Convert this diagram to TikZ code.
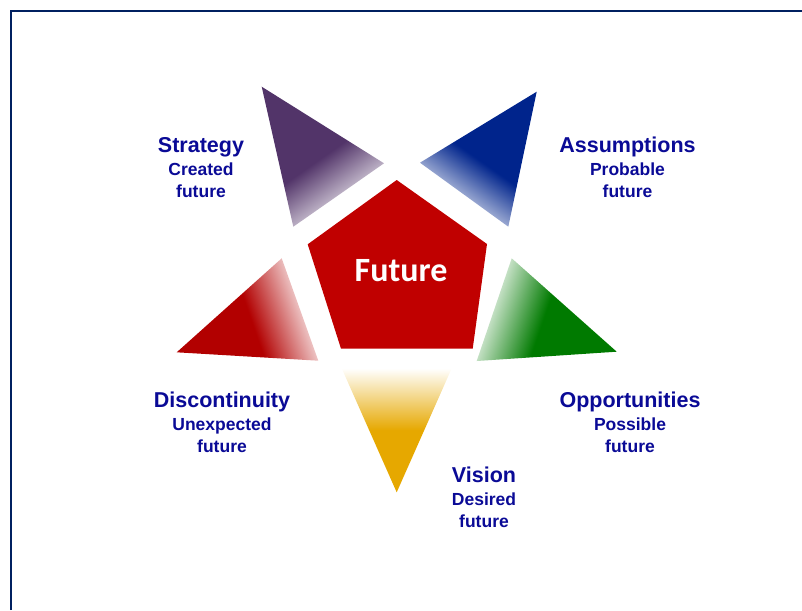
\documentclass[tikz,border=0pt]{standalone}
\usepackage{fontspec}
\setmainfont{Liberation Sans}
\newfontfamily\futurefont{Carlito}

\definecolor{starcolor0000}{RGB}{0,32,96}
\definecolor{starcolor0001}{RGB}{192,0,0}
\definecolor{starcolor0002}{RGB}{82,52,105}
\definecolor{starcolor0003}{RGB}{0,36,140}
\definecolor{starcolor0004}{RGB}{178,0,0}
\definecolor{starcolor0005}{RGB}{0,122,0}
\definecolor{starcolor0006}{RGB}{230,168,0}
\definecolor{starcolor0007}{RGB}{10,10,150}

\begin{document}
\begin{tikzpicture}[yscale=-1
                ,pstyle1/.style={color=starcolor0000,line width=2pt}
                ,pstyle2/.style={top color=#1,bottom color=white,middle color=#1}
                ,pstyle3/.style={anchor=base,color=starcolor0007,font=\fontsize{21.5}{22}\selectfont\bfseries}
                ,pstyle4/.style={anchor=base,color=starcolor0007,font=\fontsize{17.5}{20}\selectfont\bfseries}
            ]
            \useasboundingbox (0pt,0pt) rectangle (802pt,610pt);
            \draw[pstyle1] (10.8pt,610pt) -- (10.8pt,11pt) -- (802pt,11pt);
            \shade[pstyle2=starcolor0002,shading angle=35] (261.7pt,86.7pt) -- (384pt,163.3pt) -- (293.3pt,226.7pt) -- cycle;
            \shade[pstyle2=starcolor0003,shading angle=-35] (536.7pt,91.7pt) -- (420pt,162.7pt) -- (508.3pt,226.7pt) -- cycle;
            \shade[pstyle2=starcolor0004,shading angle=109] (176.7pt,352.3pt) -- (281.7pt,258.3pt) -- (318.3pt,360.7pt) -- cycle;
            \shade[pstyle2=starcolor0005,shading angle=-109] (511.7pt,258.3pt) -- (616.7pt,351.7pt) -- (476.7pt,361pt) -- cycle;
            \shade[pstyle2=starcolor0006,shading angle=180] (341.7pt,368.3pt) -- (451.7pt,368.3pt) -- (396.7pt,492.3pt) -- cycle;
            \fill[starcolor0001] (396.7pt,180pt) -- (487pt,244pt) -- (472.7pt,348.7pt) -- (341pt,348.7pt) -- (307.7pt,244.3pt) -- cycle;
            \node[anchor=base,color=white,font=\futurefont\fontsize{34}{36}\selectfont\bfseries] (future) at (401pt,281pt) {Future};
            \node[pstyle3] (strategy) at (201pt,152pt) {Strategy};
            \node[pstyle4] (strategysub) at (201pt,175pt) {Created};
            \node[pstyle4] (strategyfut) at (201pt,197pt) {future};
            \node[pstyle3] (assumptions) at (627.5pt,152pt) {Assumptions};
            \node[pstyle4] (assumptionssub) at (627.5pt,175pt) {Probable};
            \node[pstyle4] (assumptionsfut) at (627.5pt,197pt) {future};
            \node[pstyle3] (discontinuity) at (222pt,407pt) {Discontinuity};
            \node[pstyle4] (discontinuitysub) at (222pt,430pt) {Unexpected};
            \node[pstyle4] (discontinuityfut) at (222pt,452pt) {future};
            \node[pstyle3] (opportunities) at (630pt,407pt) {Opportunities};
            \node[pstyle4] (opportunitiessub) at (630pt,430pt) {Possible};
            \node[pstyle4] (opportunitiesfut) at (630pt,452pt) {future};
            \node[pstyle3] (vision) at (484pt,482pt) {Vision};
            \node[pstyle4] (visionsub) at (484pt,505pt) {Desired};
            \node[pstyle4] (visionfut) at (484pt,527pt) {future};
        \end{tikzpicture}
\end{document}
